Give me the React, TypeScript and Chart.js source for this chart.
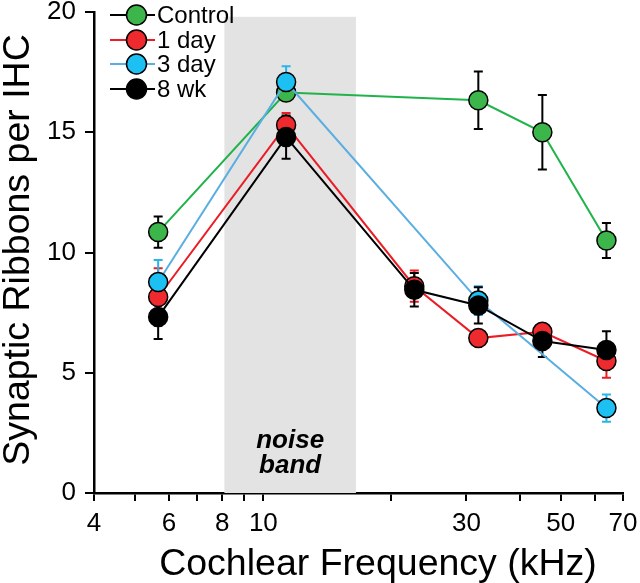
import React, { useEffect, useRef } from "react";
import { Chart, registerables } from "chart.js";

Chart.register(...registerables);

// ---- data ----
const seriesNames = ["Control", "1 day", "3 day", "8 wk"];

const controlX = [5.66, 11.31, 32, 45.25, 64];
const controlY = [10.85, 16.65, 16.33, 15.0, 10.5];
const controlErr = [0.65, 0.3, 1.2, 1.55, 0.73];

const day1X = [5.66, 11.31, 22.63, 32, 45.25, 64];
const day1Y = [8.15, 15.3, 8.6, 6.44, 6.7, 5.49];
const day1Err = [1.2, 0.5, 0.65, 0.3, 0.3, 0.7];

const day3X = [5.66, 11.31, 32, 64];
const day3Y = [8.77, 17.09, 8.0, 3.53];
const day3Err = [0.92, 0.65, 0.6, 0.57];

const wk8X = [5.66, 11.31, 22.63, 32, 45.25, 64];
const wk8Y = [7.32, 14.8, 8.45, 7.8, 6.32, 5.95];
const wk8Err = [0.92, 0.9, 0.7, 0.75, 0.66, 0.78];

const xTickValues = [4, 5, 6, 7, 8, 9, 10, 20, 30, 40, 50, 60, 70];
const xTickLabels = [4, 6, 8, 10, 30, 50, 70];
const yTickValues = [0, 5, 10, 15, 20];

const noiseBand = [8.1, 16.5]; // kHz
const noiseBandTop = 19.8;

const FONT = "'Liberation Sans', Arial, Helvetica, sans-serif";

const lineColors = ["#1fb34a", "#ec1c24", "#5aaee2", "#000000"];
const fillColors = ["#3cb54a", "#ee2a2e", "#1cc0f2", "#000000"];
const errColors = ["#000000", "#ec1c24", "#2ab4ec", "#000000"];
const legendLineColors = ["#000000", "#ec1c24", "#5aaee2", "#000000"];

const allX = [controlX, day1X, day3X, wk8X];
const allY = [controlY, day1Y, day3Y, wk8Y];
const allErr = [controlErr, day1Err, day3Err, wk8Err];

const bandPlugin = {
  id: "noiseBand",
  beforeDatasetsDraw(chart: any) {
    const { ctx, scales } = chart;
    const x0 = scales.x.getPixelForValue(noiseBand[0]);
    const x1 = scales.x.getPixelForValue(noiseBand[1]);
    const yTop = scales.y.getPixelForValue(noiseBandTop);
    const yBot = scales.y.getPixelForValue(0);
    ctx.save();
    ctx.fillStyle = "#e3e3e3";
    ctx.fillRect(x0, yTop, x1 - x0, yBot - yTop);
    ctx.fillStyle = "#000";
    ctx.font = `italic bold 26px ${FONT}`;
    ctx.textAlign = "center";
    ctx.textBaseline = "middle";
    const cx = (x0 + x1) / 2;
    ctx.fillText("noise", cx, 441);
    ctx.fillText("band", cx, 466);
    ctx.restore();
  },
};

const errorBarPlugin = {
  id: "errorBars",
  beforeDatasetsDraw(chart: any) {
    const { ctx, scales } = chart;
    ctx.save();
    ctx.lineWidth = 2;
    for (let s = 0; s < allX.length; s++) {
      ctx.strokeStyle = errColors[s];
      for (let i = 0; i < allX[s].length; i++) {
        const px = scales.x.getPixelForValue(allX[s][i]);
        const yHi = scales.y.getPixelForValue(allY[s][i] + allErr[s][i]);
        const yLo = scales.y.getPixelForValue(allY[s][i] - allErr[s][i]);
        ctx.beginPath();
        ctx.moveTo(px, yHi);
        ctx.lineTo(px, yLo);
        ctx.moveTo(px - 4.5, yHi);
        ctx.lineTo(px + 4.5, yHi);
        ctx.moveTo(px - 4.5, yLo);
        ctx.lineTo(px + 4.5, yLo);
        ctx.stroke();
      }
    }
    ctx.restore();
  },
};

const legendPlugin = {
  id: "customLegend",
  afterDraw(chart: any) {
    const { ctx } = chart;
    ctx.save();
    const rows = [15, 40, 64, 89];
    ctx.font = `24px ${FONT}`;
    ctx.textBaseline = "middle";
    ctx.textAlign = "left";
    seriesNames.forEach((name, i) => {
      const y = rows[i];
      ctx.strokeStyle = legendLineColors[i];
      ctx.lineWidth = 2;
      ctx.beginPath();
      ctx.moveTo(110, y);
      ctx.lineTo(155, y);
      ctx.stroke();
      ctx.beginPath();
      ctx.arc(136.5, y, 10, 0, Math.PI * 2);
      ctx.fillStyle = fillColors[i];
      ctx.fill();
      ctx.strokeStyle = "#000";
      ctx.lineWidth = 1.5;
      ctx.stroke();
      ctx.fillStyle = "#000";
      ctx.fillText(name, 157, y + 1);
    });
    ctx.restore();
  },
};

const axisTitlePlugin = {
  id: "axisTitles",
  afterDraw(chart: any) {
    const { ctx } = chart;
    ctx.save();
    ctx.fillStyle = "#000";
    ctx.font = `37.5px ${FONT}`;
    ctx.textAlign = "center";
    ctx.textBaseline = "alphabetic";
    ctx.fillText("Cochlear Frequency (kHz)", 378, 575);
    ctx.translate(29, 250);
    ctx.rotate(-Math.PI / 2);
    ctx.fillText("Synaptic Ribbons per IHC", 0, 0);
    ctx.restore();
  },
};

export default function App() {
  const ref = useRef<HTMLCanvasElement>(null);
  useEffect(() => {
    document.body.style.margin = "0";
    const canvas = ref.current!;
    const order = [4, 3, 2, 1];
    const chart = new Chart(canvas, {
      type: "line",
      data: {
        datasets: seriesNames.map((name, s) => ({
          label: name,
          data: allX[s].map((x, i) => ({ x, y: allY[s][i] })),
          borderColor: lineColors[s],
          borderWidth: 2,
          backgroundColor: fillColors[s],
          pointBackgroundColor: fillColors[s],
          pointBorderColor: "#000",
          pointBorderWidth: 1.5,
          pointRadius: 9.5,
          pointHoverRadius: 9.5,
          tension: 0,
          fill: false,
          order: order[s],
        })),
      },
      options: {
        responsive: false,
        animation: false,
        events: [],
        layout: { padding: { top: 12, right: 17, left: 0, bottom: 0 } },
        plugins: {
          legend: { display: false },
          tooltip: { enabled: false },
          title: { display: false },
        },
        scales: {
          x: {
            type: "logarithmic",
            position: "bottom",
            min: 4,
            max: 70,
            afterBuildTicks: (scale: any) => {
              scale.ticks = xTickValues.map((v) => ({ value: v }));
            },
            afterFit: (scale: any) => {
              scale.height = 90;
              scale.paddingLeft = 0;
              scale.paddingRight = 0;
            },
            ticks: {
              autoSkip: false,
              maxRotation: 0,
              minRotation: 0,
              color: "#000",
              padding: 7,
              font: { family: FONT, size: 26 },
              callback: (v: any) =>
                xTickLabels.includes(Number(v)) ? String(v) : "",
            },
            grid: {
              drawOnChartArea: false,
              drawTicks: true,
              tickLength: 8,
              color: "#000",
              lineWidth: 2,
            },
            border: { display: true, color: "#000", width: 2.5 },
          },
          y: {
            type: "linear",
            min: 0,
            max: 20,
            afterBuildTicks: (scale: any) => {
              scale.ticks = yTickValues.map((v) => ({ value: v }));
            },
            afterFit: (scale: any) => {
              scale.width = 94;
              scale.paddingTop = 0;
              scale.paddingBottom = 0;
            },
            ticks: {
              color: "#000",
              padding: 9,
              font: { family: FONT, size: 26 },
            },
            grid: {
              drawOnChartArea: false,
              drawTicks: true,
              tickLength: 9,
              color: "#000",
              lineWidth: 2,
            },
            border: { display: true, color: "#000", width: 2.5 },
          },
        },
      },
      plugins: [bandPlugin, errorBarPlugin, legendPlugin, axisTitlePlugin],
    } as any);
    return () => chart.destroy();
  }, []);
  return (
    <div style={{ width: 640, height: 583, background: "#fff" }}>
      <canvas ref={ref} width={640} height={583} style={{ display: "block" }} />
    </div>
  );
}
